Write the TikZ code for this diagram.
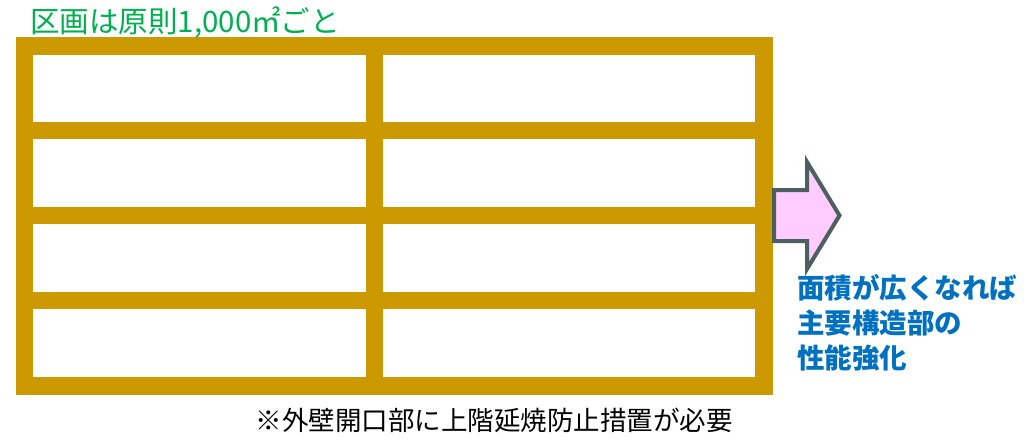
\documentclass[tikz,border=0pt]{standalone}
\usepackage{fontspec}
\setmainfont{Noto Sans CJK JP}
\definecolor{frame}{RGB}{204,153,0}
\definecolor{titlegreen}{RGB}{0,176,80}
\definecolor{noteblue}{RGB}{0,112,192}
\definecolor{arrowfill}{RGB}{255,204,255}
\definecolor{arrowline}{RGB}{77,95,95}
\begin{document}
\begin{tikzpicture}[x=1pt,y=-1pt,
  framebar/.style={draw=frame,line width=17.5pt,miter limit=10},
  bigtext/.style={inner sep=0pt,anchor=base west,font=\fontsize{27}{35}\selectfont},
  bluetext/.style={bigtext,text=noteblue,font=\fontsize{27.5}{35}\selectfont\bfseries}]
\useasboundingbox (0,0) rectangle (1035,441);
% grid
\draw[framebar] (24.5,46) rectangle (764,386);
\foreach \yy in {130.5,215.5,300.5}
  \draw[framebar] (24.5,\yy) -- (764,\yy);
\draw[framebar] (374.5,46) -- (374.5,386);
% arrow
\draw[arrowline,fill=arrowfill,line width=4pt,miter limit=10]
  (774,190) -- (807,190) -- (807,162) -- (839.5,215.5) -- (807,269) -- (807,241) -- (774,241) -- cycle;
% texts
\node[bigtext,text=titlegreen,font=\fontsize{29.5}{35}\selectfont] (title) at (30,33) {区画は原則1,000㎡ごと};
\node[bluetext] (b1) at (797,298) {面積が広くなれば};
\node[bluetext] (b2) at (797,333) {主要構造部の};
\node[bluetext] (b3) at (797,368) {性能強化};
\node[inner sep=0pt,anchor=base,font=\fontsize{26.5}{30}\selectfont] (note) at (494,430) {※外壁開口部に上階延焼防止措置が必要};
\end{tikzpicture}
\end{document}
